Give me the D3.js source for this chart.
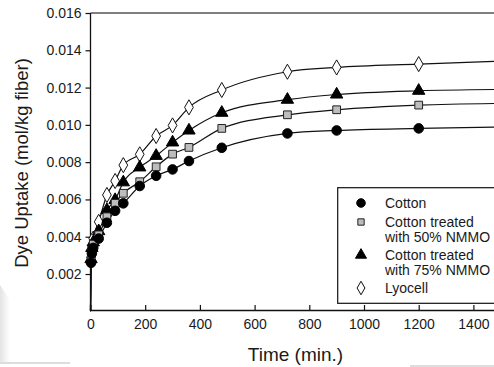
<!DOCTYPE html>
<html>
<head>
<meta charset="utf-8">
<script src="https://cdn.jsdelivr.net/npm/d3@7"></script>
<style>
  body { margin: 0; background: #fff; }
  svg { display: block; font-family: "Liberation Sans", Arial, sans-serif; }
</style>
</head>
<body>
<svg id="canvas" width="494" height="367"></svg>
<script>
// sampling times (min.)
let times = [2, 5, 10, 30, 60, 90, 120, 180, 240, 300, 360, 480, 720, 900, 1200]

// dye uptake (mol/kg fiber)
let cotton = [0.0026, 0.0031, 0.0034, 0.0039, 0.00475, 0.00539, 0.00579, 0.00672, 0.00727, 0.00761, 0.00806, 0.00877, 0.00954, 0.0097, 0.00981]
let nmmo50 = [0.0027, 0.0033, 0.0036, 0.0041, 0.00507, 0.00579, 0.00633, 0.00695, 0.00775, 0.00843, 0.00879, 0.00981, 0.01054, 0.01081, 0.01106]
let nmmo75 = [0.0028, 0.0034, 0.0037, 0.0043, 0.00543, 0.00597, 0.00692, 0.00772, 0.00834, 0.00906, 0.0097, 0.01065, 0.01135, 0.01163, 0.01183]
let lyocell = [0.0029, 0.0033, 0.0039, 0.0048, 0.00624, 0.00699, 0.00784, 0.00842, 0.0094, 0.00997, 0.01094, 0.01187, 0.01285, 0.01308, 0.01326]

// fitted curve start and end (t = 0 and t = 1500)
let curveEnds = {
  cotton: [0, 0.00988],
  nmmo50: [0, 0.01115],
  nmmo75: [0, 0.0119],
  lyocell: [0, 0.01342]
}

let xTicks = [0, 200, 400, 600, 800, 1000, 1200, 1400]
let yTicks = [0.002, 0.004, 0.006, 0.008, 0.010, 0.012, 0.014, 0.016]

let series = [
  { key: 'cotton', name: ['Cotton'], values: cotton, shape: 'circle' },
  { key: 'nmmo50', name: ['Cotton treated', 'with 50% NMMO'], values: nmmo50, shape: 'square' },
  { key: 'nmmo75', name: ['Cotton treated', 'with 75% NMMO'], values: nmmo75, shape: 'triangle' },
  { key: 'lyocell', name: ['Lyocell'], values: lyocell, shape: 'diamond' }
]

let canvas = d3.select('#canvas')

let margin = { left: 90.5, top: 13, bottom: 310 }
let xScale = d3.scaleLinear().domain([0, 1500]).range([margin.left, margin.left + 1500 * 0.2735])
let yScale = d3.scaleLinear().domain([0, 0.016]).range([311.3, 13])

// faint page shadow at lower left / bottom
let shade = canvas.append('defs').append('linearGradient')
  .attr('id', 'shade').attr('x1', 0).attr('x2', 1).attr('y1', 0).attr('y2', 0)
shade.append('stop').attr('offset', 0).attr('stop-color', '#e4e4e4')
shade.append('stop').attr('offset', 1).attr('stop-color', '#fff')
canvas.append('path')
  .attr('d', 'M0,285 L10,300 L10,362 L0,362 Z')
  .attr('fill', 'url(#shade)')
canvas.append('line')
  .attr('x1', 0).attr('x2', 70).attr('y1', 363).attr('y2', 363)
  .attr('stroke', '#ddd').attr('stroke-width', 2)
canvas.append('line')
  .attr('x1', 410).attr('x2', 494).attr('y1', 366).attr('y2', 366)
  .attr('stroke', '#ddd').attr('stroke-width', 2)

// top frame line
canvas.append('line')
  .attr('x1', margin.left).attr('x2', 494)
  .attr('y1', yScale(0.016)).attr('y2', yScale(0.016))
  .attr('stroke', '#555').attr('stroke-width', 1.5)

// x axis (ticks pointing inward)
let xAxis = d3.axisBottom(xScale).tickValues(xTicks).tickSize(-5).tickSizeOuter(0).tickPadding(9)
  .tickFormat(d3.format('d'))
let gx = canvas.append('g')
  .attr('transform', `translate(0,${margin.bottom})`)
  .call(xAxis)
gx.select('.domain').attr('stroke', '#111').attr('stroke-width', 1.3)
gx.selectAll('.tick line').attr('stroke', '#111').attr('stroke-width', 1.2)
gx.selectAll('.tick text').attr('font-size', 14).attr('fill', '#1a1a1a')
  .attr('font-family', '"Liberation Sans", Arial, sans-serif')

// y axis (ticks pointing outward)
let yAxis = d3.axisLeft(yScale).tickValues(yTicks).tickSize(5).tickSizeOuter(0).tickPadding(4)
  .tickFormat(d3.format('.3f'))
let gy = canvas.append('g')
  .attr('transform', `translate(${margin.left},0)`)
  .call(yAxis)
gy.select('.domain').attr('stroke', '#111').attr('stroke-width', 1.3)
  .attr('d', `M0,${yScale(0.016)}V${margin.bottom}`)
gy.selectAll('.tick line').attr('stroke', '#111').attr('stroke-width', 1.2)
gy.selectAll('.tick text').attr('font-size', 14).attr('fill', '#1a1a1a')
  .attr('font-family', '"Liberation Sans", Arial, sans-serif')

// axis titles
canvas.append('text')
  .attr('x', 295.5).attr('y', 354)
  .attr('text-anchor', 'middle').attr('dominant-baseline', 'central')
  .attr('font-size', 19).attr('fill', '#1a1a1a')
  .text('Time (min.)')
canvas.append('text')
  .attr('transform', `translate(21.5,163) rotate(-90)`)
  .attr('text-anchor', 'middle').attr('dominant-baseline', 'central')
  .attr('font-size', 18.5).attr('fill', '#1a1a1a')
  .text('Dye Uptake (mol/kg fiber)')

// fitted curves
let line = d3.line()
  .x((d) => xScale(d[0]))
  .y((d) => yScale(d[1]))
  .curve(d3.curveMonotoneX)

let plot = canvas.append('g')

series.forEach((s) => {
  let ends = curveEnds[s.key]
  let pts = [[0, ends[0]]].concat(times.map((t, i) => [t, s.values[i]])).concat([[1500, ends[1]]])
  plot.append('path')
    .attr('d', line(pts))
    .attr('fill', 'none')
    .attr('stroke', '#111')
    .attr('stroke-width', 1.2)
})

let markerStyle = {
  circle: { type: d3.symbolCircle, size: 72, fill: '#000', stroke: '#000' },
  square: { type: d3.symbolSquare, size: 60, fill: '#bdbdbd', stroke: '#222' },
  triangle: { type: d3.symbolTriangle, size: 66, fill: '#000', stroke: '#000' },
  diamond: { type: d3.symbolDiamond, size: 66, fill: '#fff', stroke: '#111' }
}

series.slice().reverse().forEach((s) => {
  let st = markerStyle[s.shape]
  plot.selectAll(null)
    .data(times.map((t, i) => [t, s.values[i]]))
    .enter()
    .append('path')
    .attr('transform', (d) => `translate(${xScale(d[0])},${yScale(d[1])})`)
    .attr('d', d3.symbol().type(st.type).size(st.size))
    .attr('fill', st.fill)
    .attr('stroke', st.stroke)
    .attr('stroke-width', 1)
})

// legend
let legend = canvas.append('g')
legend.append('rect')
  .attr('x', 337.7).attr('y', 187.7)
  .attr('width', 170).attr('height', 115.6)
  .attr('fill', '#fff').attr('stroke', '#111').attr('stroke-width', 1.2)

let legendRows = [203, 222, 255, 288]
series.forEach((s, i) => {
  let st = markerStyle[s.shape]
  let small = s.shape === 'square' ? 40 : st.size * 0.8
  legend.append('path')
    .attr('transform', `translate(361,${legendRows[i]})`)
    .attr('d', d3.symbol().type(st.type).size(small))
    .attr('fill', st.fill)
    .attr('stroke', st.stroke)
    .attr('stroke-width', 1)
  s.name.forEach((txt, j) => {
    legend.append('text')
      .attr('x', 385).attr('y', legendRows[i] + j * 15)
      .attr('dominant-baseline', 'central')
      .attr('font-size', 14).attr('fill', '#1a1a1a')
      .text(txt)
  })
})
</script>
</body>
</html>
